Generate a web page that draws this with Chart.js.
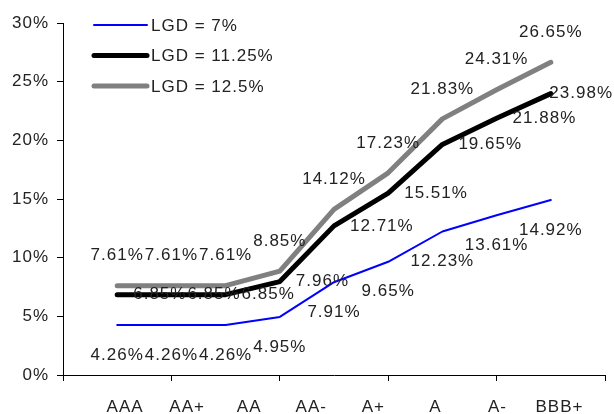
<!DOCTYPE html>
<html>
<head>
<meta charset="utf-8">
<script src="https://cdn.jsdelivr.net/npm/chart.js@4/dist/chart.umd.min.js"></script>
<style>
  html, body { margin: 0; padding: 0; background: #fff; }
  #wrap { width: 614px; height: 414px; }
</style>
</head>
<body>
<div id="wrap"><canvas id="c" width="614" height="414"></canvas></div>
<script>
// Rating buckets shown under the axis
const ratings = ['AAA', 'AA+', 'AA', 'AA-', 'A+', 'A', 'A-', 'BBB+'];

// Series names
const seriesNames = ['LGD = 7%', 'LGD = 11.25%', 'LGD = 12.5%'];

// Capital charge (%) per step, one array per LGD assumption
const lgd7    = [4.26, 4.26, 4.26, 4.95, 7.91, 9.65, 12.23, 13.61, 14.92];
const lgd1125 = [6.85, 6.85, 6.85, 7.96, 12.71, 15.51, 19.65, 21.88, 23.98];
const lgd125  = [7.61, 7.61, 7.61, 8.85, 14.12, 17.23, 21.83, 24.31, 26.65];

// Axis ticks
const yTicks = [0, 5, 10, 15, 20, 25, 30];
const xMarks = [0, 2, 4, 6, 8, 10];

const FONT = '17px "Liberation Sans", Arial, sans-serif';
const TEXT = '#222';
const LABEL_STEP = 1.145;

const toPoints = arr => arr.map((v, i) => ({ x: i + 1, y: v }));

// Keep the wider glyph spacing on every text draw
const spacing = {
  id: 'spacing',
  beforeUpdate(chart) { chart.ctx.letterSpacing = '1px'; },
  beforeDraw(chart) { chart.ctx.letterSpacing = '1px'; }
};

// Value labels next to each point
const valueLabels = {
  id: 'valueLabels',
  afterDatasetsDraw(chart) {
    const ctx = chart.ctx;
    ctx.save();
    ctx.font = FONT;
    ctx.fillStyle = TEXT;
    ctx.textAlign = 'left';
    ctx.textBaseline = 'middle';
    chart.data.datasets.forEach((ds, di) => {
      const meta = chart.getDatasetMeta(di);
      meta.data.forEach((pt, i) => {
        const txt = ds.data[i].y.toFixed(2) + '%';
        const w = ctx.measureText(txt).width;
        let x = pt.x, y = pt.y;
        if (ds.labelAt === 'below') { y += 30; x -= w / 2; }
        else if (ds.labelAt === 'above') { y -= 30; x -= w / 2; }
        else { x += 16; }
        x = Math.min(x, chart.width - 1 - w);
        ctx.fillText(txt, x, y);
      });
    });
    ctx.restore();
  }
};

// Legend block inside the plot, top left
const insetLegend = {
  id: 'insetLegend',
  afterDraw(chart) {
    const ctx = chart.ctx;
    const a = chart.chartArea;
    ctx.save();
    ctx.font = FONT;
    ctx.fillStyle = TEXT;
    ctx.textAlign = 'left';
    ctx.textBaseline = 'middle';
    chart.data.datasets.forEach((ds, i) => {
      const y = a.top + 2 + i * 30.5;
      ctx.beginPath();
      ctx.strokeStyle = ds.borderColor;
      ctx.lineWidth = ds.borderWidth;
      ctx.lineCap = 'round';
      ctx.moveTo(a.left + 31, y);
      ctx.lineTo(a.left + 84, y);
      ctx.stroke();
      ctx.fillText(ds.label, a.left + 88, y + 1);
    });
    ctx.restore();
  }
};

new Chart(document.getElementById('c'), {
  type: 'line',
  data: {
    datasets: [
      { label: seriesNames[0], data: toPoints(lgd7), borderColor: '#0000ff', borderWidth: 2, labelAt: 'below' },
      { label: seriesNames[1], data: toPoints(lgd1125), borderColor: '#000000', borderWidth: 5, labelAt: 'right' },
      { label: seriesNames[2], data: toPoints(lgd125), borderColor: '#808080', borderWidth: 5, labelAt: 'above' }
    ].map(d => Object.assign(d, {
      pointRadius: 0, pointHoverRadius: 0, tension: 0, fill: false,
      borderJoinStyle: 'round', borderCapStyle: 'round'
    }))
  },
  options: {
    responsive: false,
    devicePixelRatio: 1,
    animation: false,
    layout: { padding: { left: 0, right: 9, top: 23, bottom: 0 } },
    plugins: { legend: { display: false }, tooltip: { enabled: false } },
    scales: {
      x: {
        type: 'linear', min: 0, max: 10, position: 'bottom', weight: 0,
        afterBuildTicks: s => { s.ticks = xMarks.map(v => ({ value: v })); },
        ticks: { display: false },
        grid: { drawOnChartArea: false, drawTicks: true, tickLength: 6, color: '#000', lineWidth: 1 },
        border: { display: true, color: '#000', width: 1 },
        afterFit: s => { s.height = 6; }
      },
      xl: {
        type: 'linear', min: 0, max: 10, position: 'bottom', weight: 1,
        afterBuildTicks: s => { s.ticks = ratings.map((r, i) => ({ value: (i + 1) * LABEL_STEP })); },
        ticks: {
          autoSkip: false, maxRotation: 0, minRotation: 0, padding: 16,
          color: TEXT, font: { family: '"Liberation Sans", Arial, sans-serif', size: 17 },
          callback: (v, i) => ratings[i]
        },
        grid: { display: false, drawTicks: false },
        border: { display: false },
        afterFit: s => { s.height = 33; }
      },
      y: {
        min: 0, max: 30,
        afterBuildTicks: s => { s.ticks = yTicks.map(v => ({ value: v })); },
        ticks: {
          padding: 8, color: TEXT,
          font: { family: '"Liberation Sans", Arial, sans-serif', size: 17 },
          callback: v => v + '%'
        },
        grid: { drawOnChartArea: false, drawTicks: true, tickLength: 6, color: '#000', lineWidth: 1 },
        border: { display: true, color: '#000', width: 1 },
        afterFit: s => { s.width = 63; }
      }
    }
  },
  plugins: [spacing, valueLabels, insetLegend]
});
</script>
</body>
</html>
